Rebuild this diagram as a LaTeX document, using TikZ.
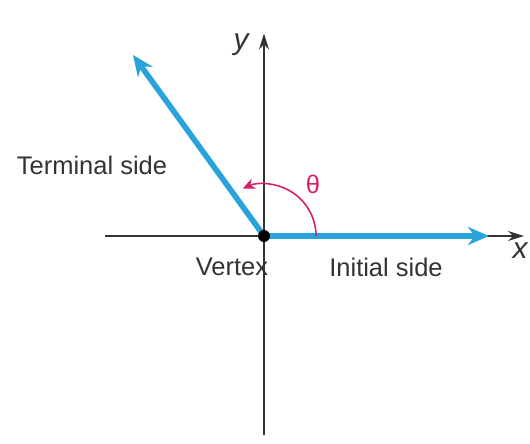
\documentclass[tikz,border=0pt]{standalone}
\usepackage{fontspec}
\setmainfont{Liberation Sans}
\usetikzlibrary{arrows.meta}
\definecolor{sideblue}{HTML}{2AA3DB}
\definecolor{anglered}{HTML}{D4206A}
\definecolor{axisgray}{HTML}{333333}
\tikzset{
  axis/.style={-{Stealth[length=3.2mm,width=2mm]},axisgray,line width=0.8pt},
  side/.style={-{Stealth[length=4.2mm,width=3.6mm]},sideblue,line width=3.2pt},
  lbl/.style={font=\fontsize{14.5}{17}\selectfont,text=axisgray,inner sep=0pt},
}
\begin{document}
\begin{tikzpicture}
\useasboundingbox (-5.28,-4.14) rectangle (5.32,4.72);
\coordinate (O) at (0,0);
\coordinate (xl) at (-3.18,0);
\coordinate (xr) at (5.2,0);
\coordinate (yb) at (0,-3.98);
\coordinate (yt) at (0,4.05);
\coordinate (init) at (4.5,0);
\coordinate (term) at (-2.62,3.62);
\draw[axis] (xl) -- (xr);
\draw[axis] (yb) -- (yt);
\draw[side] (O) -- (init);
\draw[side] (O) -- (term);
\draw[anglered,line width=0.9pt,-{Stealth[length=2.4mm,width=2.2mm]}] (1.04,0) arc[start angle=0,end angle=114,radius=1.04];
\fill[black] (O) circle[radius=0.12];
\node[lbl,text=anglered] (th) at (0.98,1.04) {θ};
\node[lbl] (ts) at (-3.44,1.42) {Terminal side};
\node[lbl] (vx) at (-0.64,-0.62) {Vertex};
\node[lbl] (is) at (2.44,-0.62) {Initial side};
\node[lbl,font=\fontsize{17}{19}\selectfont\itshape] (xlab) at (5.12,-0.3) {x};
\node[lbl,font=\fontsize{17}{19}\selectfont\itshape] (ylab) at (-0.46,3.82) {y};
\end{tikzpicture}
\end{document}
